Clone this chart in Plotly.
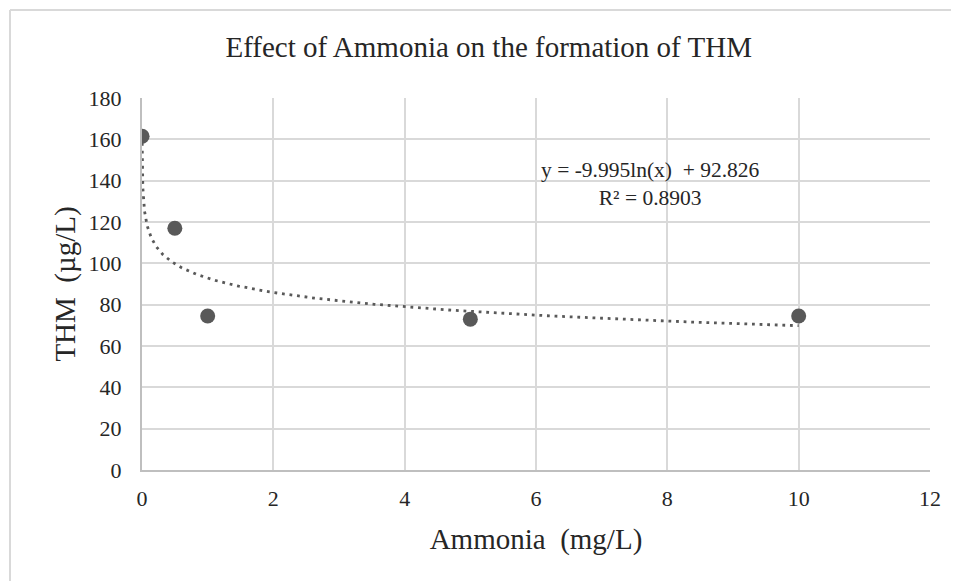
import numpy as np
import plotly.graph_objects as go

# Data
ammonia = [0.001, 0.5, 1, 5, 10]
thm = [161.5, 117, 74.5, 73, 74.5]

# Logarithmic trendline as displayed on the chart: y = a*ln(x) + b
trend_a = -9.995
trend_b = 92.826
r_squared = 0.8903

x_ticks = [0, 2, 4, 6, 8, 10, 12]
y_ticks = [0, 20, 40, 60, 80, 100, 120, 140, 160, 180]

FONT = "Liberation Serif, Times New Roman, serif"

tx = np.logspace(np.log10(min(ammonia)), np.log10(max(ammonia)), 400)
ty = trend_a * np.log(tx) + trend_b

fig = go.Figure()
fig.add_trace(go.Scatter(
    x=tx, y=ty, mode="lines",
    line=dict(color="#595959", width=2.8, dash="2.8px,4.8px"),
    hoverinfo="skip", showlegend=False,
))
fig.add_trace(go.Scatter(
    x=ammonia, y=thm, mode="markers",
    marker=dict(color="#595959", size=15),
    showlegend=False,
))

eq_text = "y = %.3fln(x)  + %.3f<br>R² = %.4f" % (trend_a, trend_b, r_squared)
fig.add_annotation(
    x=7.74, y=138.2, xref="x", yref="y", text=eq_text, showarrow=False,
    font=dict(family=FONT, size=21.5, color="#262626"), align="center",
)

# outer chart border (top and left visible)
fig.add_shape(type="line", xref="paper", yref="paper",
              x0=-0.1675, x1=-0.1675, y0=-0.35, y1=1.2366,
              line=dict(color="#d9d9d9", width=2))
fig.add_shape(type="line", xref="paper", yref="paper",
              x0=-0.1675, x1=1.06, y0=1.2366, y1=1.2366,
              line=dict(color="#d9d9d9", width=2))

fig.update_layout(
    width=951, height=573,
    margin=dict(l=134, r=29, t=90, b=111),
    paper_bgcolor="white", plot_bgcolor="white",
    font=dict(family=FONT, color="#262626"),
    title=dict(text="Effect of Ammonia on the formation of THM",
               x=0.5055, xanchor="center", y=0.932, yanchor="middle",
               font=dict(family=FONT, size=29, color="#262626")),
    xaxis=dict(
        range=[0, 12], tickvals=x_ticks, ticktext=[str(v) for v in x_ticks],
        showgrid=True, gridcolor="#d9d9d9", gridwidth=1.5,
        showline=True, linecolor="#bfbfbf", linewidth=2, zeroline=False,
        ticks="outside", ticklen=8, tickcolor="rgba(0,0,0,0)",
        tickfont=dict(family=FONT, size=22, color="#262626"),
        title=dict(text="Ammonia  (mg/L)", standoff=18,
                   font=dict(family=FONT, size=29, color="#262626")),
    ),
    yaxis=dict(
        range=[0, 180], tickvals=y_ticks, ticktext=[str(v) for v in y_ticks],
        showgrid=True, gridcolor="#d9d9d9", gridwidth=1.5,
        showline=True, linecolor="#bfbfbf", linewidth=2, zeroline=False,
        ticks="outside", ticklen=14, tickcolor="rgba(0,0,0,0)",
        tickfont=dict(family=FONT, size=22, color="#262626"),
        title=dict(text="THM  (µg/L)", standoff=4,
                   font=dict(family=FONT, size=29, color="#262626")),
    ),
)

fig.write_html("out.html")
